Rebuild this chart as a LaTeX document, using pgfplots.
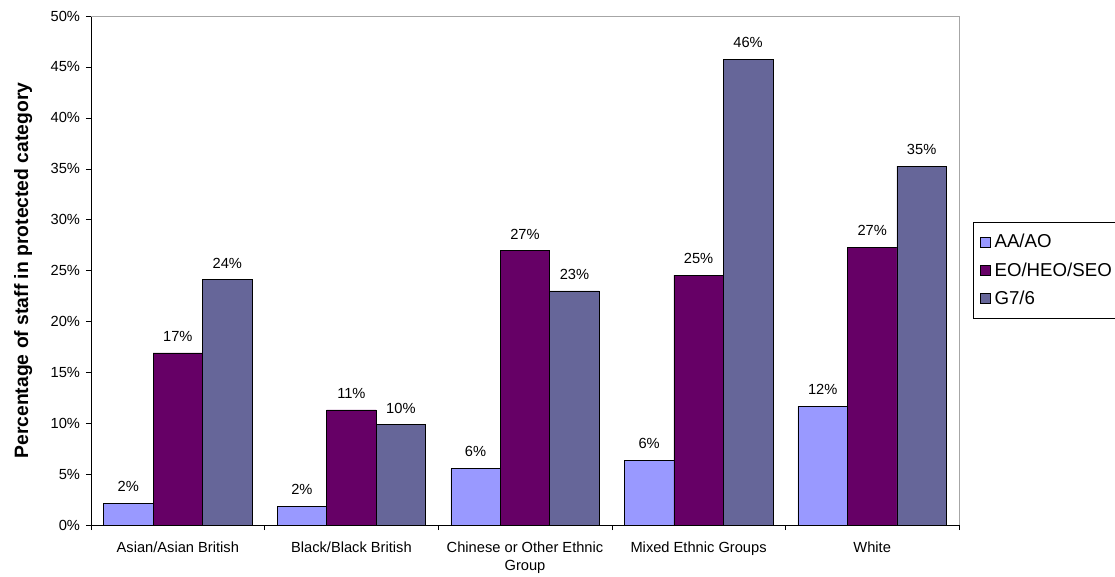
\documentclass[border=0pt]{standalone}
\usepackage{fontspec}
\setmainfont{Liberation Sans}
\usepackage{pgfplots}
\pgfplotsset{compat=1.18}
\definecolor{aa}{HTML}{9999FF}
\definecolor{eo}{HTML}{660066}
\definecolor{gs}{HTML}{666699}
\pgfplotsset{sqlegend/.style={legend image code/.code={\path[draw=none,fill=none] (0pt,0pt) -- (12pt,0pt);\draw[##1] (3.25pt,-3.75pt) rectangle (10.75pt,3.75pt);}}}
\begin{document}
\begin{tikzpicture}
\useasboundingbox (0,0) rectangle (836.25pt,432pt);
\begin{axis}[
  at={(68.25pt,38.25pt)}, anchor=south west,
  scale only axis, width=651pt, height=381.75pt,
  ymin=0, ymax=50, xmin=-0.5, xmax=4.5,
  ybar, bar width=0.285,
  axis x line*=bottom, axis y line*=left,
  axis line style={-, black},
  tick align=outside, major tick length=3.75pt,
  tick style={black},
  ytick={0,5,...,50},
  yticklabel={\pgfmathprintnumber{\tick}\%},
  /pgf/number format/assume math mode=true,
  xtick={-0.5,0.5,...,4.5},
  x tick label as interval,
  xticklabels={Asian/Asian British, Black/Black British, {Chinese or Other Ethnic\\Group}, Mixed Ethnic Groups, White},
  x tick label style={align=center, font=\fontsize{11}{14}\selectfont, yshift=-5pt},
  y tick label style={font=\fontsize{11}{13}\selectfont, xshift=-1pt},
  ylabel={\bfseries Percentage of staff in protected category},
  ylabel style={font=\fontsize{14.5}{17}\selectfont},
  ylabel shift=7pt,
  nodes near coords={\pgfmathprintnumber[fixed,precision=0]{\pgfplotspointmeta}\%},
  nodes near coords style={font=\fontsize{11}{13}\selectfont, yshift=5pt, black},
  legend style={at={(1.0161,0.595)}, anchor=north west, draw=black,
    font=\fontsize{14}{17}\selectfont, legend cell align=left,
    row sep=5.5pt, inner xsep=2pt, inner ysep=7pt},
  clip=false,
]
\addplot[fill=aa, draw=black, bar shift=-0.285, sqlegend]
  coordinates {(0,2.16) (1,1.86) (2,5.55) (3,6.34) (4,11.65)};
\addplot[fill=eo, draw=black, bar shift=0, sqlegend]
  coordinates {(0,16.9) (1,11.3) (2,26.95) (3,24.55) (4,27.3)};
\addplot[fill=gs, draw=black, bar shift=0.285, sqlegend]
  coordinates {(0,24.1) (1,9.85) (2,23.0) (3,45.75) (4,35.25)};
\legend{AA/AO, EO/HEO/SEO, G7/6}
\draw[gray!70] (rel axis cs:0,1) -- (rel axis cs:1,1) -- (rel axis cs:1,0);
\end{axis}
\end{tikzpicture}
\end{document}
